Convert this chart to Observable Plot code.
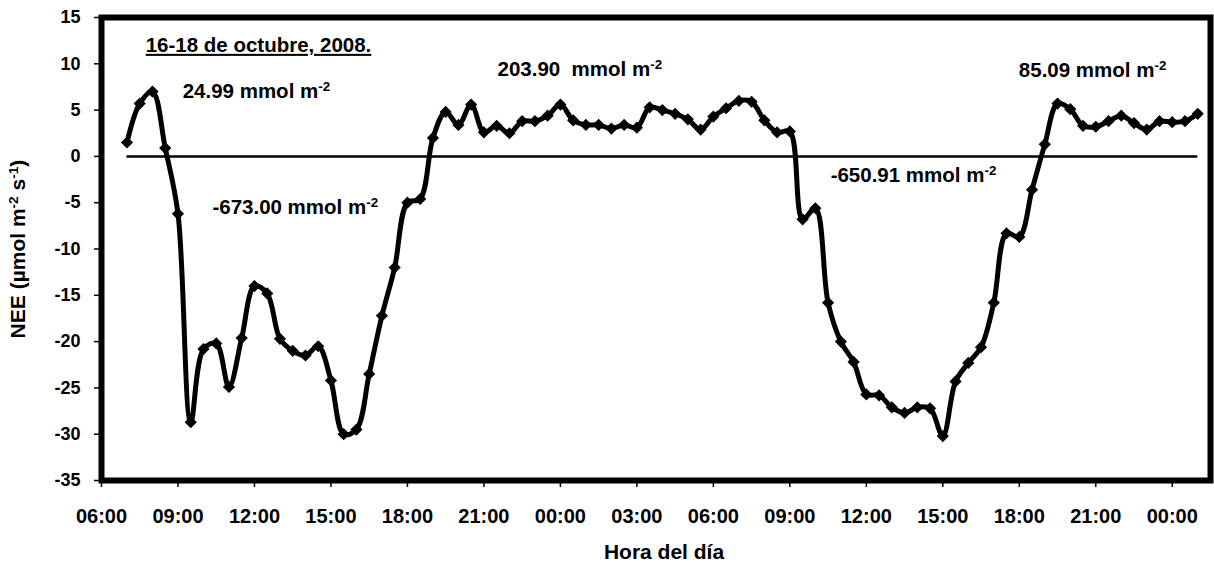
<!DOCTYPE html>
<html>
<head>
<meta charset="utf-8">
<script src="https://cdn.jsdelivr.net/npm/d3@7"></script>
<script src="https://cdn.jsdelivr.net/npm/@observablehq/plot@0.6"></script>
<style>
  body { margin: 0; background: #fff; }
  #chart svg { display: block; }
</style>
</head>
<body>
<div id="chart"></div>
<script>
// ---- Data ----
// Half-hourly NEE, 16 Oct 2008 07:00 -> 18 Oct 2008 01:00
const seriesStart = "2008-10-16T07:00Z";
const neeValues = [
  1.5, 5.7, 7.0, 0.9, -6.2, -28.7, -20.8, -20.2, -24.9, -19.6,
  -14.0, -14.8, -19.7, -21.0, -21.5, -20.5, -24.2, -30.0, -29.5, -23.5,
  -17.2, -12.0, -5.0, -4.6, 2.0, 4.8, 3.4, 5.6, 2.6, 3.3,
  2.5, 3.8, 3.8, 4.4, 5.6, 3.9, 3.4, 3.4, 3.0, 3.4,
  3.1, 5.3, 5.0, 4.6, 4.0, 2.9, 4.3, 5.2, 6.0, 5.9,
  3.9, 2.6, 2.7, -6.8, -5.6, -15.8, -20.0, -22.2, -25.7, -25.8,
  -27.1, -27.7, -27.1, -27.2, -30.2, -24.3, -22.3, -20.6, -15.8, -8.3,
  -8.7, -3.6, 1.3, 5.7, 5.1, 3.3, 3.2, 3.8, 4.4, 3.6,
  2.9, 3.8, 3.7, 3.8, 4.6
];
const xDomain = ["2008-10-16T06:00Z", "2008-10-18T01:30Z"];
const xTickTimes = [
  "2008-10-16T06:00Z", "2008-10-16T09:00Z", "2008-10-16T12:00Z", "2008-10-16T15:00Z",
  "2008-10-16T18:00Z", "2008-10-16T21:00Z", "2008-10-17T00:00Z", "2008-10-17T03:00Z",
  "2008-10-17T06:00Z", "2008-10-17T09:00Z", "2008-10-17T12:00Z", "2008-10-17T15:00Z",
  "2008-10-17T18:00Z", "2008-10-17T21:00Z", "2008-10-18T00:00Z"
];
const yTicks = [-35, -30, -25, -20, -15, -10, -5, 0, 5, 10, 15];

// Annotations (period totals)
const annotationLabels = ["24.99 mmol m^-2", "203.90  mmol m^-2", "85.09 mmol m^-2", "-673.00 mmol m^-2", "-650.91 mmol m^-2"];
const annotationTimes = ["2008-10-16T09:11Z", "2008-10-16T21:32Z", "2008-10-17T17:59Z", "2008-10-16T10:21Z", "2008-10-17T10:36Z"];
const annotationValues = [7.06, 9.35, 9.24, -5.49, -2.06];
const periodTitle = "16-18 de octubre, 2008.";
const xTitle = "Hora del día";
const yTitle = "NEE (µmol m^-2 s^-1)";

// ---- Build tables ----
const t0 = new Date(seriesStart);
const data = neeValues.map((v, i) => ({ time: d3.utcMinute.offset(t0, 30 * i), nee: v }));
const annotations = annotationLabels.map((label, i) => ({
  label, time: new Date(annotationTimes[i]), value: annotationValues[i]
}));
const firstTime = data[0].time, lastTime = data[data.length - 1].time;

const chart = Plot.plot({
  width: 1214,
  height: 563,
  marginLeft: 101,
  marginRight: 4,
  marginTop: 17,
  marginBottom: 83,
  style: { fontFamily: "'Liberation Sans', Arial, sans-serif", fontWeight: "bold", color: "black", background: "white" },
  x: { type: "utc", domain: xDomain.map(d => new Date(d)) },
  y: { domain: [-35, 15] },
  marks: [
    Plot.axisX({
      ticks: xTickTimes.map(d => new Date(d)),
      tickFormat: d3.utcFormat("%H:%M"),
      tickSize: 7, tickPadding: 21, fontSize: 20, fontWeight: "bold",
      strokeWidth: 1.5, label: null
    }),
    Plot.axisY({
      ticks: yTicks, tickFormat: d => String(d),
      tickSize: 7, tickPadding: 14, fontSize: 18, fontWeight: "bold",
      strokeWidth: 1.5, label: null
    }),
    Plot.ruleY([0], { x1: firstTime, x2: lastTime, stroke: "black", strokeWidth: 2.5 }),
    Plot.line(data, { x: "time", y: "nee", stroke: "black", strokeWidth: 5, curve: "catmull-rom" }),
    Plot.dot(data, { x: "time", y: "nee", symbol: "diamond2", r: 5.5, fill: "black", stroke: "none" }),
    Plot.text(annotations, { x: "time", y: "value", text: "label", textAnchor: "start", lineAnchor: "middle", fontSize: 20.5, fontWeight: "bold", fill: "black" }),
    Plot.text([periodTitle], { x: new Date("2008-10-16T07:44Z"), y: 12.0, text: d => d, textAnchor: "start", lineAnchor: "middle", fontSize: 20.5, fontWeight: "bold", fill: "black" }),
    Plot.text([xTitle], { frameAnchor: "bottom", dx: 8, dy: 72, text: d => d, textAnchor: "middle", lineAnchor: "middle", fontSize: 21, fontWeight: "bold", fill: "black" }),
    // y-axis title, anchored at the middle of the y range, left of the frame
    Plot.text([yTitle], { x: new Date(xDomain[0]), y: -10, dx: -83, rotate: -90, text: d => d, textAnchor: "middle", lineAnchor: "middle", fontSize: 21, fontWeight: "bold", fill: "black" }),
    Plot.frame({ stroke: "black", strokeWidth: 6 })
  ]
});

document.getElementById("chart").appendChild(chart);

// Superscripts, underline, anchoring
const NS = "http://www.w3.org/2000/svg";
chart.querySelectorAll("text").forEach(t => {
  const s = t.textContent;
  if (s === periodTitle) t.style.textDecoration = "underline";
  if (s.includes("  ")) t.setAttribute("xml:space", "preserve"), t.style.whiteSpace = "pre";
  if (!s.includes("^")) return;
  while (t.firstChild) t.removeChild(t.firstChild);
  s.split(/(\^-?\d)/).forEach(p => {
    if (!p) return;
    const ts = document.createElementNS(NS, "tspan");
    if (p.startsWith("^")) {
      ts.textContent = p.slice(1);
      ts.setAttribute("baseline-shift", "super");
      ts.setAttribute("font-size", "65%");
    } else {
      ts.textContent = p;
    }
    t.appendChild(ts);
  });
});
</script>
</body>
</html>
